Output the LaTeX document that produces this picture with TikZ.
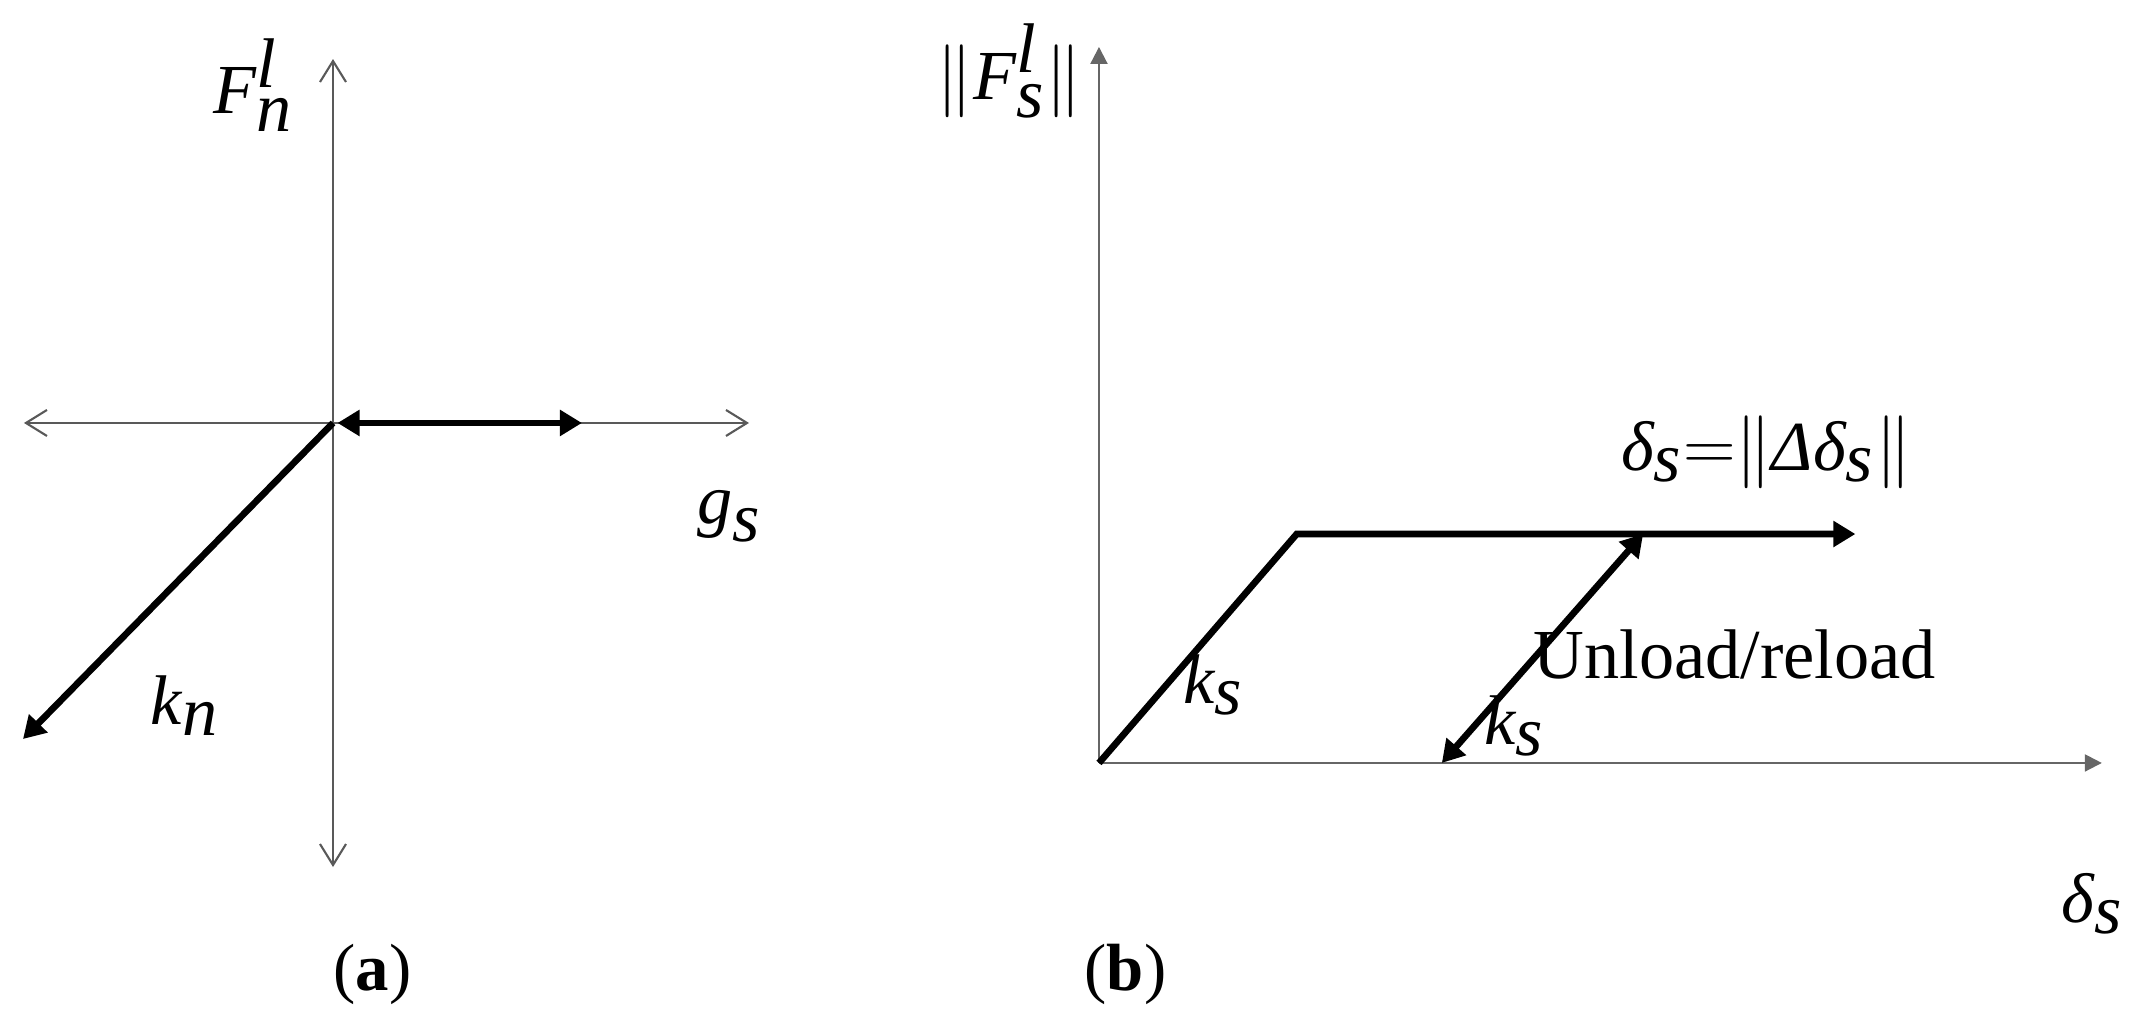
\documentclass[tikz,border=0pt]{standalone}
\usepackage{fontspec}
\setmainfont{Liberation Serif}
\usetikzlibrary{arrows.meta}
\begin{document}
\begin{tikzpicture}[x=0.13693mm,y=-0.13693mm,
  lbl/.style={inner sep=0pt, font=\fontsize{20}{24}\selectfont},
  captxt/.style={inner sep=0pt, font=\fontsize{19}{23}\selectfont},
  axisA/.style={draw=black!65, line width=0.6pt,
    {Straight Barb[length=2.1mm,width=2.6mm]}-{Straight Barb[length=2.1mm,width=2.6mm]}},
  axisB/.style={draw=black!60, line width=0.6pt, -{Triangle[length=1.7mm,width=1.7mm]}},
  thickline/.style={draw=black, line width=1.9pt},
  >={Triangle[length=2.2mm,width=2.5mm]}]
\useasboundingbox (0,0) rectangle (1568,739);
% ---------- panel (a)
\coordinate (Oa) at (243.2,308.9);
\coordinate (aTop) at (243.2,43.1);
\coordinate (aBot) at (243.2,633.2);
\coordinate (aL) at (17.5,308.9);
\coordinate (aR) at (547,308.9);
\coordinate (aThL) at (246.5,308.9);
\coordinate (aThR) at (425,308.9);
\coordinate (aDiag) at (16.8,539.7);
\draw[axisA] (aBot) -- (aTop);
\draw[axisA] (aL) -- (aR);
\draw[thickline,<->] (aThL) -- (aThR);
\draw[thickline,->] (Oa) -- (aDiag);
\node[lbl] (Fn) at (185,62) {$\textit{F}_{\textit{n}}^{\textit{l}}$};
\node[lbl] (gs) at (533,377) {$\textit{g}_{\textit{s}}$};
\node[lbl] (kn) at (135,515) {$\textit{k}_{\textit{n}}$};
\node[captxt] (capa) at (272,712) {(\textbf{a})};
% ---------- panel (b)
\coordinate (Ob) at (802.6,557.2);
\coordinate (bTop) at (802.6,34.3);
\coordinate (bR) at (1535,557.2);
\coordinate (bK) at (947,390);
\coordinate (bEnd) at (1355,390);
\coordinate (bU1) at (1053,557.2);
\coordinate (bU2) at (1200,390);
\draw[axisB] (Ob) -- (bTop);
\draw[axisB] (Ob) -- (bR);
\draw[thickline,->] (Ob) -- (bK) -- (bEnd);
\draw[thickline,<->] (bU1) -- (bU2);
\node[lbl] (Fs) at (737,52) {$\|\textit{F}_{\textit{s}}^{\textit{l}}\|$};
\node[lbl] (ds) at (1290,330) {$\textit{δ}_{\textit{s}}{=}\|\textit{Δδ}_{\textit{s}}\|$};
\node[lbl] (ks1) at (886,500) {$\textit{k}_{\textit{s}}$};
\node[lbl] (ks2) at (1106,530) {$\textit{k}_{\textit{s}}$};
\node[lbl] (ul) at (1267,478) {Unload/reload};
\node[lbl] (dsx) at (1528,660) {$\textit{δ}_{\textit{s}}$};
\node[captxt] (capb) at (822,712) {(\textbf{b})};
\end{tikzpicture}
\end{document}
